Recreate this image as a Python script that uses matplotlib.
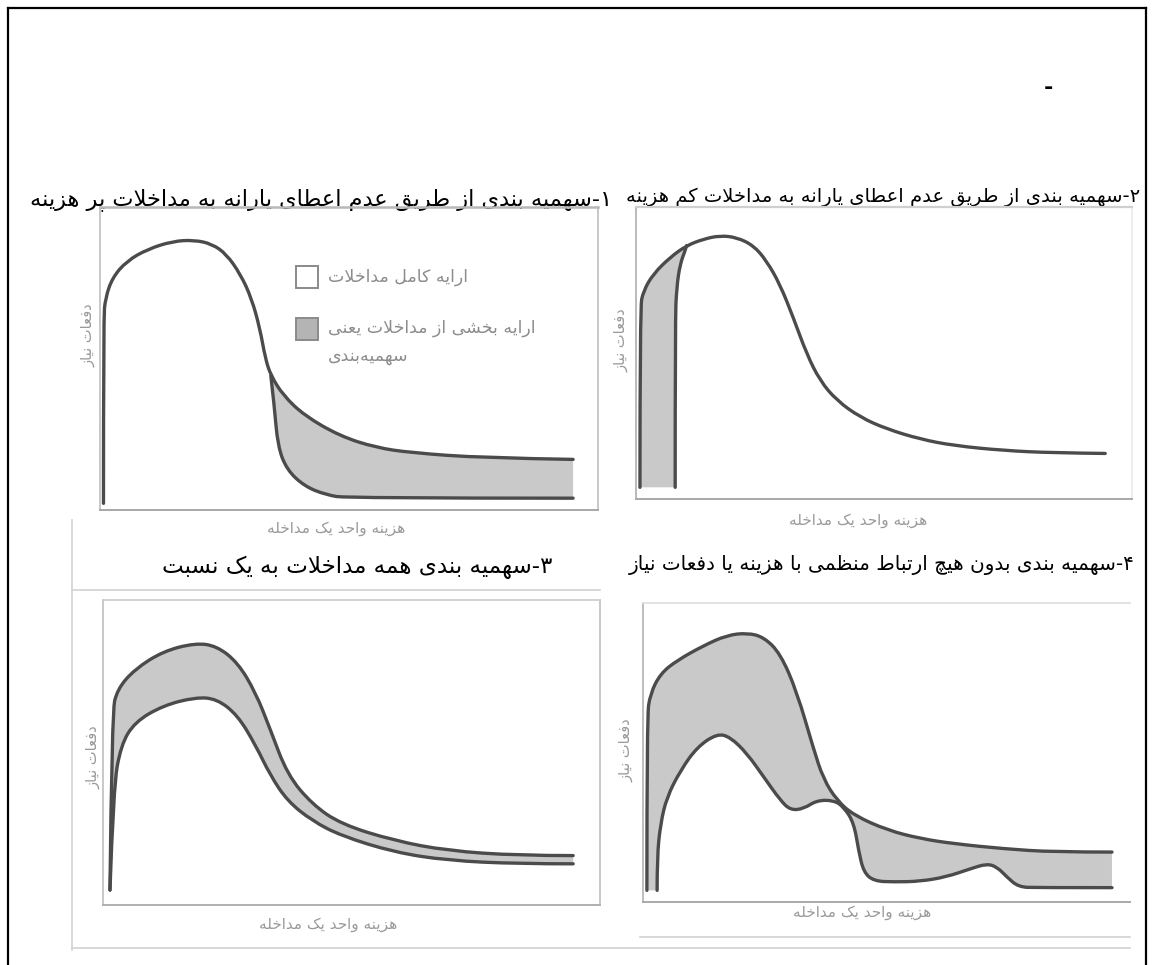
import matplotlib
matplotlib.use('Agg')
import matplotlib.pyplot as plt
from matplotlib.path import Path
from matplotlib.patches import PathPatch, Rectangle
import numpy as np

# ---- data (0-100 units inside each panel frame)
titles = [
    '۱-سهمیه بندی از طریق عدم اعطای یارانه به مداخلات پر هزینه',
    '۲-سهمیه بندی از طریق عدم اعطای یارانه به مداخلات کم هزینه',
    '۳-سهمیه بندی همه مداخلات به یک نسبت',
    '۴-سهمیه بندی بدون هیچ ارتباط منظمی با هزینه یا دفعات نیاز',
]
ylabel = 'دفعات نیاز'
xlabel = 'هزینه واحد یک مداخله'
legend_full = 'ارایه کامل مداخلات'
legend_part = 'ارایه بخشی از مداخلات یعنی'
legend_part2 = 'سهمیه\u200cبندی'

# panel 1: rationing by not subsidising expensive interventions
p1_upper_x = [0.7, 0.7, 1.1, 2.5, 5.4, 9.6, 14.6, 18.9, 22.5, 25.4, 28.2, 30.4, 32.1, 33.2, 34.3,
              36.8, 41.1, 48.2, 55.4, 62.5, 76.8, 95.0]
p1_upper_y = [2.2, 63.3, 70.0, 76.7, 82.2, 86.1, 88.7, 89.1, 87.8, 84.4, 77.8, 70.0, 60.0, 50.0, 44.4,
              37.8, 31.1, 24.4, 20.6, 18.9, 17.2, 16.7]
p1_lower_x = [34.3, 35.0, 35.7, 37.5, 41.1, 45.4, 49.6, 95.0]
p1_lower_y = [44.4, 34.4, 21.1, 13.3, 7.8, 5.0, 3.9, 3.9]

# panel 2: rationing by not subsidising cheap interventions
p2_outer_x = [0.8, 0.8, 1.5, 3.5, 6.9, 10.2, 13.6, 16.9, 20.3, 23.7, 26.3, 29.0, 31.7, 34.4, 37.1,
              40.5, 45.2, 50.5, 57.3, 64.0, 74.1, 84.1, 94.6]
p2_outer_y = [4.0, 65.6, 71.3, 77.1, 82.8, 86.8, 89.0, 90.2, 89.6, 86.8, 81.6, 73.6, 62.2, 49.7, 40.5,
              33.7, 28.0, 24.0, 20.5, 18.3, 16.6, 15.8, 15.6]
p2_inner_x = [7.9, 7.9, 8.2, 8.9, 9.9, 10.2]
p2_inner_y = [4.0, 61.1, 72.5, 80.5, 85.0, 86.8]

# panel 3: all interventions rationed in the same proportion
p3_outer_x = [1.4, 1.8, 2.9, 6.4, 12.1, 18.6, 22.9, 27.1, 30.7, 33.6, 37.1, 42.1, 47.9, 58.6, 69.3, 83.6, 94.6]
p3_outer_y = [4.9, 63.2, 70.8, 77.3, 83.2, 85.9, 84.9, 79.5, 69.7, 57.8, 42.7, 33.0, 26.5, 21.1, 17.8, 16.2, 16.2]
p3_lower_x = [1.4, 2.1, 3.6, 6.4, 12.1, 18.6, 22.9, 27.1, 30.7, 33.6, 37.1, 42.1, 47.9, 58.6, 69.3, 83.6, 94.6]
p3_lower_y = [4.9, 38.4, 52.4, 60.0, 65.4, 68.1, 67.6, 62.2, 52.4, 42.7, 34.1, 27.6, 22.7, 17.3, 14.6, 13.5, 13.5]

# panel 4: rationing with no systematic relation to cost or frequency
p4_outer_x = [0.8, 0.8, 1.5, 3.6, 7.0, 12.5, 17.2, 21.4, 24.8, 28.2, 31.6, 35.0, 37.0, 39.8, 43.3,
              50.2, 57.0, 63.8, 74.1, 84.3, 96.3]
p4_outer_y = [3.9, 61.9, 69.7, 76.4, 80.8, 85.8, 89.2, 90.0, 88.6, 83.1, 70.3, 51.3, 41.3, 34.0, 29.0,
              24.0, 21.2, 19.5, 17.8, 16.7, 16.7]
p4_inner_x = [2.9, 2.9, 3.6, 4.9, 7.7, 11.1, 15.2, 17.9, 21.4, 24.8, 28.2, 30.3, 33.0, 35.7, 39.2,
              41.2, 43.3, 44.3, 45.3, 47.4, 51.5, 56.9, 62.3, 67.2, 70.6, 72.7, 74.7, 77.1, 80.9, 96.3]
p4_inner_y = [3.9, 15.1, 26.2, 35.1, 44.0, 51.8, 56.3, 55.2, 49.6, 41.8, 34.0, 30.7, 31.2, 34.0, 34.0,
              31.8, 26.5, 17.0, 10.0, 7.0, 6.7, 6.9, 8.4, 11.1, 12.8, 11.7, 8.4, 5.0, 4.8, 4.8]


# ---- minimal Persian shaping (matplotlib has no bidi / joining support)
FORMS = {
    'ا': ('\ufe8d', '\ufe8e', None, None), 'آ': ('\ufe81', '\ufe82', None, None),
    'ب': ('\ufe8f', '\ufe90', '\ufe91', '\ufe92'), 'پ': ('\ufb56', '\ufb57', '\ufb58', '\ufb59'),
    'ت': ('\ufe95', '\ufe96', '\ufe97', '\ufe98'), 'ث': ('\ufe99', '\ufe9a', '\ufe9b', '\ufe9c'),
    'ج': ('\ufe9d', '\ufe9e', '\ufe9f', '\ufea0'), 'چ': ('\ufb7a', '\ufb7b', '\ufb7c', '\ufb7d'),
    'ح': ('\ufea1', '\ufea2', '\ufea3', '\ufea4'), 'خ': ('\ufea5', '\ufea6', '\ufea7', '\ufea8'),
    'د': ('\ufea9', '\ufeaa', None, None), 'ذ': ('\ufeab', '\ufeac', None, None),
    'ر': ('\ufead', '\ufeae', None, None), 'ز': ('\ufeaf', '\ufeb0', None, None),
    'ژ': ('\ufb8a', '\ufb8b', None, None),
    'س': ('\ufeb1', '\ufeb2', '\ufeb3', '\ufeb4'), 'ش': ('\ufeb5', '\ufeb6', '\ufeb7', '\ufeb8'),
    'ص': ('\ufeb9', '\ufeba', '\ufebb', '\ufebc'), 'ض': ('\ufebd', '\ufebe', '\ufebf', '\ufec0'),
    'ط': ('\ufec1', '\ufec2', '\ufec3', '\ufec4'), 'ظ': ('\ufec5', '\ufec6', '\ufec7', '\ufec8'),
    'ع': ('\ufec9', '\ufeca', '\ufecb', '\ufecc'), 'غ': ('\ufecd', '\ufece', '\ufecf', '\ufed0'),
    'ف': ('\ufed1', '\ufed2', '\ufed3', '\ufed4'), 'ق': ('\ufed5', '\ufed6', '\ufed7', '\ufed8'),
    'ک': ('\ufb8e', '\ufb8f', '\ufb90', '\ufb91'), 'گ': ('\ufb92', '\ufb93', '\ufb94', '\ufb95'),
    'ل': ('\ufedd', '\ufede', '\ufedf', '\ufee0'), 'م': ('\ufee1', '\ufee2', '\ufee3', '\ufee4'),
    'ن': ('\ufee5', '\ufee6', '\ufee7', '\ufee8'), 'و': ('\ufeed', '\ufeee', None, None),
    'ه': ('\ufee9', '\ufeea', '\ufeeb', '\ufeec'), 'ی': ('\ufbfc', '\ufbfd', '\ufbfe', '\ufbff'),
}


def links_forward(c):
    return c in FORMS and FORMS[c][2] is not None


def fa(text):
    out = []
    i = 0
    while i < len(text):
        c = text[i]
        prev = text[i - 1] if i > 0 else ''
        joined = links_forward(prev)
        if c == 'ل' and i + 1 < len(text) and text[i + 1] == 'ا':
            out.append('\ufefc' if joined else '\ufefb')
            i += 2
            continue
        if c in FORMS:
            iso, fin, ini, med = FORMS[c]
            nxt = text[i + 1] if i + 1 < len(text) else ''
            goes_on = ini is not None and nxt in FORMS
            if joined and goes_on:
                out.append(med)
            elif joined:
                out.append(fin)
            elif goes_on:
                out.append(ini)
            else:
                out.append(iso)
        elif c != '\u200c':
            out.append(c)
        i += 1
    return ''.join(reversed(out))


def smooth(x, y):
    # quadratic bezier through the midpoints, the read points act as controls
    pts = np.column_stack([x, y]).astype(float)
    verts, codes = [pts[0]], [Path.MOVETO]
    if len(pts) == 2:
        return verts + [pts[1]], codes + [Path.LINETO]
    for i in range(1, len(pts) - 1):
        end = pts[i + 1] if i == len(pts) - 2 else (pts[i] + pts[i + 1]) / 2
        verts += [pts[i], end]
        codes += [Path.CURVE3, Path.CURVE3]
    return verts, codes


plt.rcParams['font.family'] = ['DejaVu Sans']

W, H = 1154, 965
fig = plt.figure(figsize=(W / 100, H / 100), dpi=100)
bg = fig.add_axes([0, 0, 1, 1])
bg.set_xlim(0, W)
bg.set_ylim(H, 0)
bg.axis('off')

# page border
bg.plot([8, 8], [965, 8], color='black', lw=1.6)
bg.plot([8, 1146], [8, 8], color='black', lw=1.6)
bg.plot([1146, 1146], [8, 965], color='black', lw=1.6)
bg.text(1048, 88, '-', fontsize=16, fontweight='bold', ha='center', va='center')

# faint outer lines of the scanned lower half
scan = '#d2d2d2'
bg.plot([72, 72], [520, 950], color=scan, lw=1.2)
bg.plot([72, 600], [590, 590], color=scan, lw=1.2)
bg.plot([72, 1130], [948, 948], color=scan, lw=1.2)
bg.plot([640, 1130], [937, 937], color=scan, lw=1.2)

title_pos = [(612, 200, 16.2), (1140, 197, 14), (552, 567, 16.6), (1135, 565, 14.4)]
for t, (tx, ty, fs) in zip(titles, title_pos):
    bg.text(tx, ty, fa(t), fontsize=fs, ha='right', va='center', color='black')

label_c = '#9a9a9a'
for (lx, ly) in [(336, 528), (858, 521), (328, 925), (862, 912)]:
    bg.text(lx, ly, fa(xlabel), fontsize=11, ha='center', va='center', color=label_c)
for (lx, ly) in [(88, 335), (621, 340), (93, 757), (626, 750)]:
    bg.text(lx, ly, fa(ylabel), fontsize=10.5, ha='center', va='center', color=label_c, rotation=90)

line_c = '#4b4b4b'
fill_c = '#c9c9c9'
lw = 2.4


def panel(l, t, r, b, spines):
    ax = fig.add_axes([l / W, 1 - b / H, (r - l) / W, (b - t) / H])
    ax.set_xlim(0, 100)
    ax.set_ylim(0, 100)
    ax.set_xticks([])
    ax.set_yticks([])
    ax.patch.set_alpha(0)
    for side, (col, w) in spines.items():
        if col is None:
            ax.spines[side].set_visible(False)
        else:
            ax.spines[side].set_color(col)
            ax.spines[side].set_linewidth(w)
    return ax


def curve(ax, x, y):
    v, c = smooth(x, y)
    ax.add_patch(PathPatch(Path(v, c), facecolor='none', edgecolor=line_c, lw=lw,
                           joinstyle='round', capstyle='round', zorder=3))


def band(ax, x1, y1, x2, y2):
    v1, c1 = smooth(x1, y1)
    v2, c2 = smooth(x2[::-1], y2[::-1])
    c2[0] = Path.LINETO
    verts = v1 + v2 + [v1[0]]
    codes = c1 + c2 + [Path.CLOSEPOLY]
    ax.add_patch(PathPatch(Path(verts, codes), facecolor=fill_c, edgecolor='none', zorder=2))


# panel 1
ax1 = panel(100, 207, 598, 510, {'left': ('#c4c4c4', 1.3), 'right': ('#c4c4c4', 1.3),
                                 'top': ('#b8b8b8', 1.8), 'bottom': ('#a8a8a8', 1.4)})
k = p1_upper_x.index(p1_lower_x[0])
band(ax1, p1_upper_x[k:], p1_upper_y[k:], p1_lower_x, p1_lower_y)
curve(ax1, p1_upper_x, p1_upper_y)
curve(ax1, p1_lower_x, p1_lower_y)

# legend of panel 1 (placed in page pixels)
bg.add_patch(Rectangle((296, 266), 22, 22, facecolor='white', edgecolor='#8a8a8a', lw=1.4, zorder=5))
bg.add_patch(Rectangle((296, 318), 22, 22, facecolor='#b4b4b4', edgecolor='#8a8a8a', lw=1.4, zorder=5))
bg.text(328, 277, fa(legend_full), fontsize=12.5, ha='left', va='center', color='#8c8c8c', zorder=5)
bg.text(328, 328, fa(legend_part), fontsize=12.5, ha='left', va='center', color='#8c8c8c', zorder=5)
bg.text(328, 356, fa(legend_part2), fontsize=12.5, ha='left', va='center', color='#8c8c8c', zorder=5)

# panel 2
ax2 = panel(636, 207, 1132, 499, {'left': ('#b4b4b4', 1.3), 'right': ('#ececec', 1.3),
                                  'top': ('#cfcfcf', 1.6), 'bottom': ('#a8a8a8', 1.4)})
m = p2_outer_x.index(p2_inner_x[-1])
band(ax2, p2_outer_x[:m + 1], p2_outer_y[:m + 1], p2_inner_x, p2_inner_y)
curve(ax2, p2_outer_x, p2_outer_y)
curve(ax2, p2_inner_x, p2_inner_y)

# panel 3
ax3 = panel(103, 600, 600, 905, {'left': ('#c4c4c4', 1.3), 'right': ('#c4c4c4', 1.3),
                                 'top': ('#cfcfcf', 1.3), 'bottom': ('#b0b0b0', 1.4)})
band(ax3, p3_outer_x, p3_outer_y, p3_lower_x, p3_lower_y)
curve(ax3, p3_outer_x, p3_outer_y)
curve(ax3, p3_lower_x, p3_lower_y)

# panel 4
ax4 = panel(643, 603, 1130, 902, {'left': ('#b8b8b8', 1.3), 'right': (None, 0),
                                  'top': ('#e0e0e0', 1.3), 'bottom': ('#aaaaaa', 1.4)})
band(ax4, p4_outer_x, p4_outer_y, p4_inner_x, p4_inner_y)
curve(ax4, p4_outer_x, p4_outer_y)
curve(ax4, p4_inner_x, p4_inner_y)

fig.savefig('out.png', dpi=100)
